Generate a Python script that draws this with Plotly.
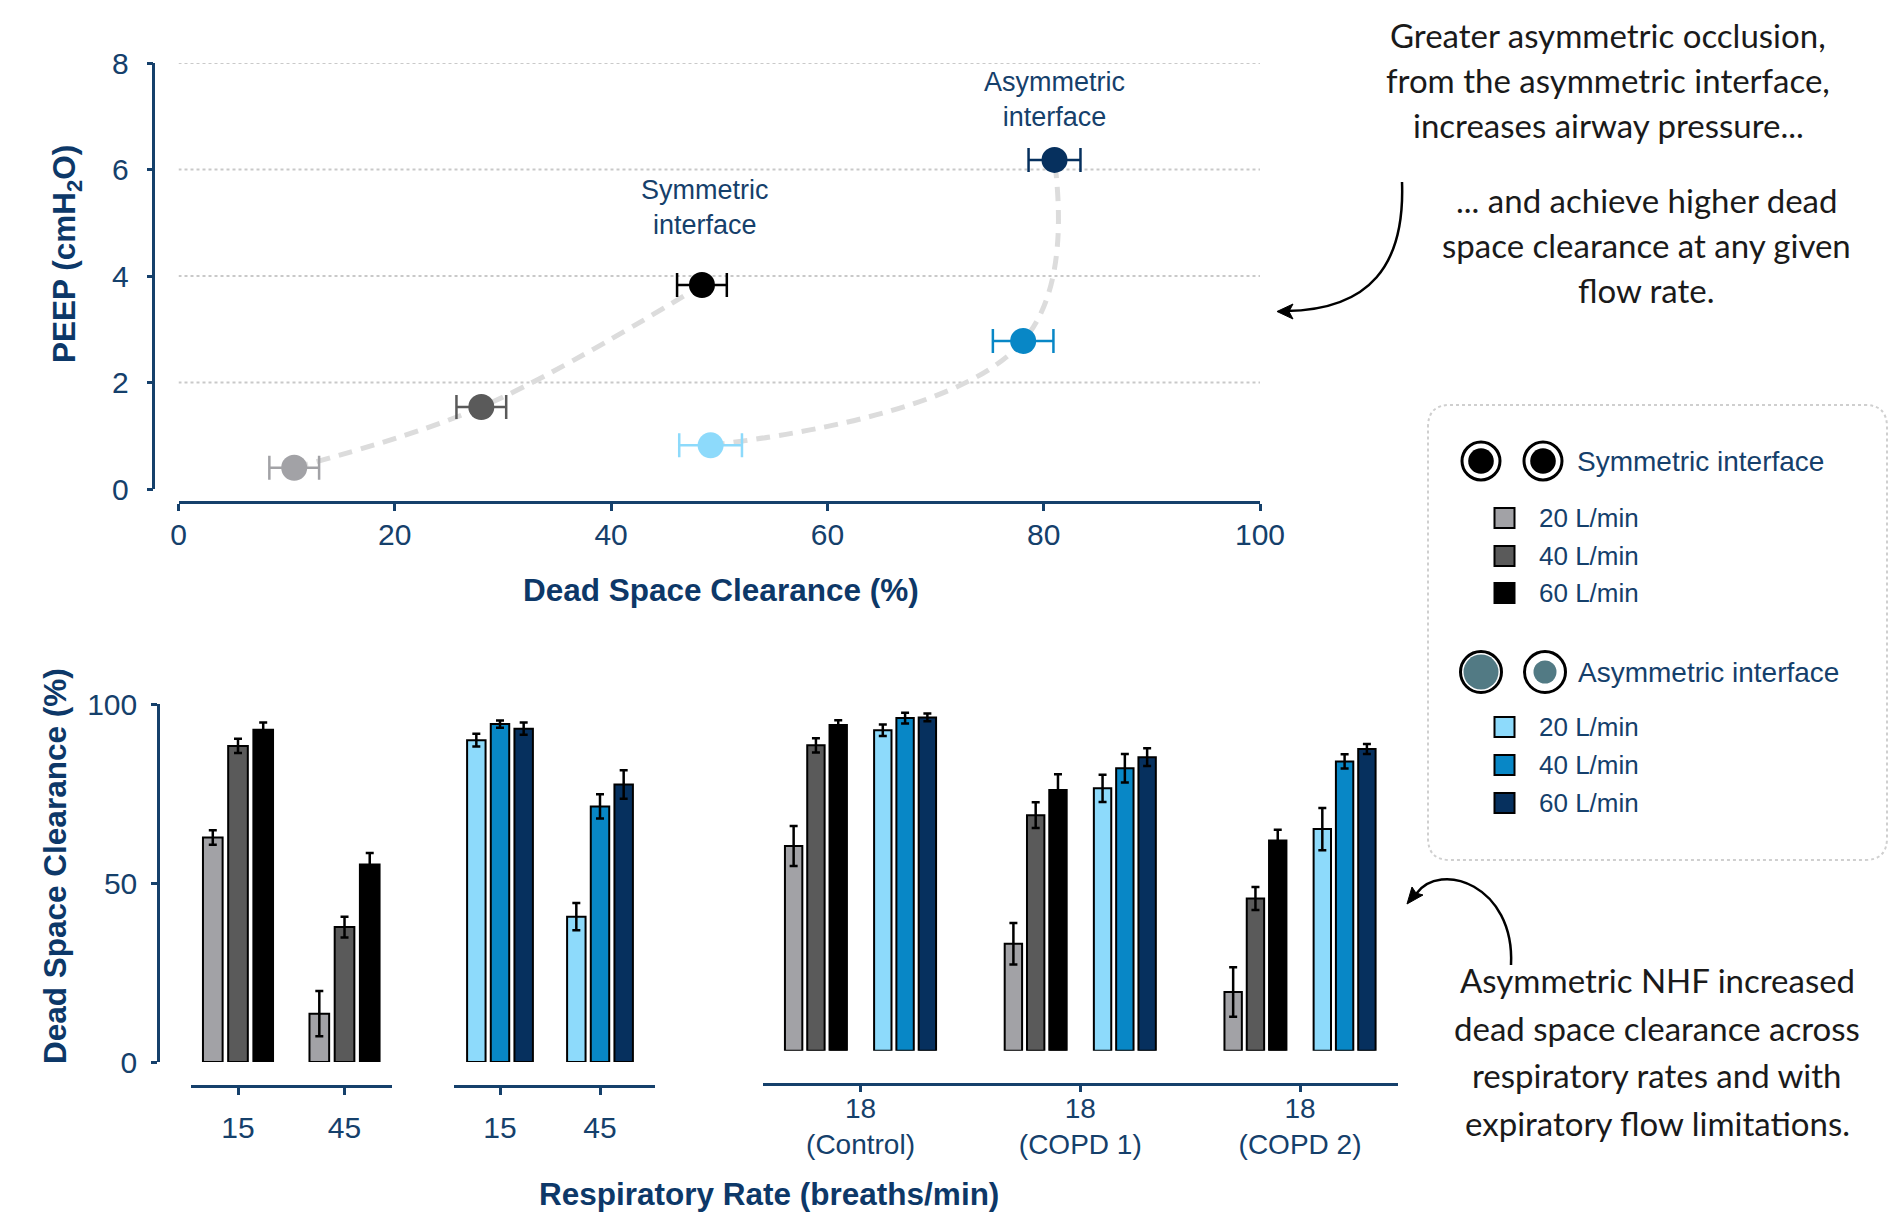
import plotly.graph_objects as go

W, H = 1891, 1213
def px(x): return x / W
def py(y): return 1 - y / H

# ---------------- data ----------------
flow_labels = ["20 L/min", "40 L/min", "60 L/min"]

# top panel: PEEP vs dead space clearance
sym_dsc = [10.7, 28.0, 48.4]
sym_dsc_err = [2.3, 2.3, 2.3]
sym_peep = [0.40, 1.54, 3.83]
asym_dsc = [49.2, 78.1, 81.0]
asym_dsc_err = [2.9, 2.8, 2.4]
asym_peep = [0.82, 2.78, 6.18]

# bottom panels: dead space clearance (%)
rr_cats = ["15", "45"]
sym_rr_20 = [62.7, 13.5]; sym_rr_20_err = [2.0, 6.3]
sym_rr_40 = [88.3, 37.7]; sym_rr_40_err = [2.0, 2.9]
sym_rr_60 = [92.8, 55.2]; sym_rr_60_err = [2.0, 3.2]
asym_rr_20 = [89.9, 40.6]; asym_rr_20_err = [1.8, 3.8]
asym_rr_40 = [94.4, 71.4]; asym_rr_40_err = [1.0, 3.4]
asym_rr_60 = [93.1, 77.5]; asym_rr_60_err = [1.7, 4.0]

copd_cats = ["18<br>(Control)", "18<br>(COPD 1)", "18<br>(COPD 2)"]
sym_copd_20 = [57.2, 29.9, 16.4]; sym_copd_20_err = [5.6, 5.8, 6.9]
sym_copd_40 = [85.3, 65.8, 42.5]; sym_copd_40_err = [2.0, 3.6, 3.2]
sym_copd_60 = [91.0, 72.8, 58.7]; sym_copd_60_err = [1.3, 4.4, 3.0]
asym_copd_20 = [89.5, 73.3, 61.9]; asym_copd_20_err = [1.6, 3.8, 5.9]
asym_copd_40 = [92.9, 78.9, 80.8]; asym_copd_40_err = [1.5, 4.0, 2.0]
asym_copd_60 = [93.1, 82.0, 84.3]; asym_copd_60_err = [1.1, 2.5, 1.4]

peep_ticks = [0, 2, 4, 6, 8]
dsc_ticks = [0, 20, 40, 60, 80, 100]
bar_ticks = [0, 50, 100]

# ---------------- styles ----------------
sym_colors = ["#a2a2a6", "#5a5a5a", "#000000"]
asym_colors = ["#8ddafb", "#0887c6", "#06305e"]
TXT = "#15406b"
TITLE = "#0d3868"
FONT = "Liberation Sans, Arial, sans-serif"
HAND = "Lato, sans-serif"
AX = dict(showline=True, linecolor=TXT, linewidth=2.5, ticks="outside",
          tickcolor=TXT, tickwidth=2.5, showgrid=False, zeroline=False, automargin=False,
          tickfont=dict(size=30, color=TXT, family=FONT), fixedrange=True)

fig = go.Figure()

# ---------- top panel ----------
fig.add_trace(go.Scatter(x=sym_dsc, y=sym_peep, mode="lines",
                         line=dict(color="#dcdcdc", width=5, shape="spline", dash="14px,9px"),
                         xaxis="x", yaxis="y", showlegend=False, hoverinfo="skip"))
fig.add_trace(go.Scatter(x=asym_dsc, y=asym_peep, mode="lines",
                         line=dict(color="#dcdcdc", width=5, shape="spline", smoothing=1.2, dash="14px,9px"),
                         xaxis="x", yaxis="y", showlegend=False, hoverinfo="skip"))
for xs, es, ys, cols in [(sym_dsc, sym_dsc_err, sym_peep, sym_colors),
                         (asym_dsc, asym_dsc_err, asym_peep, asym_colors)]:
    for i in range(3):
        fig.add_trace(go.Scatter(
            x=[xs[i]], y=[ys[i]], mode="markers",
            marker=dict(size=26, color=cols[i], line=dict(width=0)),
            error_x=dict(type="data", array=[es[i]], color=cols[i], thickness=2.5, width=12),
            xaxis="x", yaxis="y", showlegend=False, cliponaxis=False))

# ---------- bottom panels ----------
def add_bars(cats, vals, errs, color, xa, ya, name):
    fig.add_trace(go.Bar(
        x=cats, y=vals, name=name, marker=dict(color=color, line=dict(color="#000000", width=2)),
        error_y=dict(type="data", array=errs, color="#000000", thickness=2.5, width=4),
        xaxis=xa, yaxis=ya, showlegend=False))

sym_sets = [(sym_rr_20, sym_rr_20_err), (sym_rr_40, sym_rr_40_err), (sym_rr_60, sym_rr_60_err)]
asym_sets = [(asym_rr_20, asym_rr_20_err), (asym_rr_40, asym_rr_40_err), (asym_rr_60, asym_rr_60_err)]
for i, (v, e) in enumerate(sym_sets):
    add_bars(rr_cats, v, e, sym_colors[i], "x2", "y2", flow_labels[i])
for i, (v, e) in enumerate(asym_sets):
    add_bars(rr_cats, v, e, asym_colors[i], "x3", "y2", flow_labels[i])

copd_sym = [(sym_copd_20, sym_copd_20_err), (sym_copd_40, sym_copd_40_err), (sym_copd_60, sym_copd_60_err)]
copd_asym = [(asym_copd_20, asym_copd_20_err), (asym_copd_40, asym_copd_40_err), (asym_copd_60, asym_copd_60_err)]
for i, (v, e) in enumerate(copd_sym):
    add_bars(copd_cats, v, e, sym_colors[i], "x4", "y3", flow_labels[i])
# empty spacer slot between the two interfaces
fig.add_trace(go.Bar(x=copd_cats, y=[0] * len(copd_cats), marker=dict(color="rgba(0,0,0,0)", line=dict(width=0)),
                     xaxis="x4", yaxis="y3", showlegend=False, hoverinfo="skip"))
for i, (v, e) in enumerate(copd_asym):
    add_bars(copd_cats, v, e, asym_colors[i], "x4", "y3", flow_labels[i])

# ---------------- layout ----------------
shapes = []
for v in peep_ticks[1:]:
    shapes.append(dict(type="line", xref="x", yref="y", x0=dsc_ticks[0], x1=dsc_ticks[-1], y0=v, y1=v,
                       line=dict(color="#c9c9c9", width=2, dash="dot"), layer="below"))

def ppath(pts_cmd):
    out = []
    for tok in pts_cmd:
        if isinstance(tok, str):
            out.append(tok)
        else:
            out.append(f"{px(tok[0]):.5f},{py(tok[1]):.5f}")
    return " ".join(out)

# arrows (curves + filled heads)
shapes.append(dict(type="path", xref="paper", yref="paper",
                   path=ppath(["M", (1402, 182), "C", (1405, 265), (1370, 310), (1286, 311)]),
                   line=dict(color="#000000", width=2.5)))
shapes.append(dict(type="path", xref="paper", yref="paper",
                   path=ppath(["M", (1277, 311.5), "L", (1293, 304), "L", (1289, 311.5), "L", (1293, 319), "Z"]),
                   fillcolor="#000000", line=dict(color="#000000", width=1)))
shapes.append(dict(type="path", xref="paper", yref="paper",
                   path=ppath(["M", (1511, 965), "C", (1515, 885), (1440, 860), (1416, 894)]),
                   line=dict(color="#000000", width=2.5)))
shapes.append(dict(type="path", xref="paper", yref="paper",
                   path=ppath(["M", (1407, 904), "L", (1412, 887), "L", (1416, 893), "L", (1423, 895), "Z"]),
                   fillcolor="#000000", line=dict(color="#000000", width=1)))

# legend box (rounded, dotted)
x0, x1, y0, y1, r = 1428, 1887, 405, 860, 22
shapes.append(dict(type="path", xref="paper", yref="paper",
                   path=ppath(["M", (x0 + r, y0), "L", (x1 - r, y0), "Q", (x1, y0), (x1, y0 + r),
                               "L", (x1, y1 - r), "Q", (x1, y1), (x1 - r, y1),
                               "L", (x0 + r, y1), "Q", (x0, y1), (x0, y1 - r),
                               "L", (x0, y0 + r), "Q", (x0, y0), (x0 + r, y0), "Z"]),
                   line=dict(color="#cfcfcf", width=2, dash="dot")))

def circle(cx, cy, rr, fill, lc=None, lw=0):
    shapes.append(dict(type="circle", xref="paper", yref="paper",
                       x0=px(cx - rr), x1=px(cx + rr), y0=py(cy + rr), y1=py(cy - rr),
                       fillcolor=fill, line=dict(color=lc or fill, width=lw)))

TEAL = "#527a84"
for cx in (1481, 1543):
    circle(cx, 461, 19, "#ffffff", "#000000", 3)
    circle(cx, 461, 12.8, "#000000")
circle(1481, 672, 20.5, "#ffffff", "#000000", 3)
circle(1481, 672, 17.5, TEAL)
circle(1545, 672, 20.5, "#ffffff", "#000000", 3)
circle(1545, 672, 11.5, TEAL)

sq_sym_y = [518, 556, 593]
sq_asym_y = [727, 765, 803]
for ys, cols in [(sq_sym_y, sym_colors), (sq_asym_y, asym_colors)]:
    for yy, c in zip(ys, cols):
        shapes.append(dict(type="rect", xref="paper", yref="paper",
                           x0=px(1494.5), x1=px(1514.5), y0=py(yy + 10), y1=py(yy - 10),
                           fillcolor=c, line=dict(color="#000000", width=2)))

annotations = []
def ann(text, x, y, size, color=TXT, bold=False, xanchor="center", angle=0, family=FONT, xref="paper", yref="paper"):
    annotations.append(dict(text=f"<b>{text}</b>" if bold else text, x=x, y=y, xref=xref, yref=yref,
                            xanchor=xanchor, yanchor="middle", showarrow=False, textangle=angle,
                            font=dict(size=size, color=color, family=family)))

# axis titles
ann("Dead Space Clearance (%)", px(721), py(590), 31.5, TITLE, True)
ann("PEEP (cmH<sub>2</sub>O)", px(66), py(254), 31.5, TITLE, True, angle=-90)
ann("Dead Space Clearance (%)", px(55), py(866), 31.5, TITLE, True, angle=-90)
ann("Respiratory Rate (breaths/min)", px(769), py(1194), 31.5, TITLE, True)

# in-plot labels
ann("Symmetric<br>interface", 48.7, 5.29, 27, TXT, xref="x", yref="y")
ann("Asymmetric<br>interface", 81.0, 7.32, 27, TXT, xref="x", yref="y")

# legend labels
ann("Symmetric interface", px(1575), py(461), 28, TXT, xanchor="left")
ann("Asymmetric interface", px(1576), py(672), 28, TXT, xanchor="left")
for ys in (sq_sym_y, sq_asym_y):
    for yy, lab in zip(ys, flow_labels):
        ann(lab, px(1537), py(yy), 26, TXT, xanchor="left")

# handwritten notes
note1 = ["Greater asymmetric occlusion,", "from the asymmetric interface,", "increases airway pressure..."]
note1_y = [35, 80, 125]
note2 = ["... and achieve higher dead", "space clearance at any given", "flow rate."]
note2_y = [200, 245, 290]
note3 = ["Asymmetric NHF increased", "dead space clearance across", "respiratory rates and with", "expiratory flow limitations."]
note3_y = [980, 1028, 1075, 1123]
for t, yy in zip(note1, note1_y):
    ann(t, px(1608), py(yy), 33, "#1a1a1a", family=HAND)
for t, yy in zip(note2, note2_y):
    ann(t, px(1646), py(yy), 33, "#1a1a1a", family=HAND)
for t, yy in zip(note3, note3_y):
    ann(t, px(1657), py(yy), 33, "#1a1a1a", family=HAND)

fig.update_layout(
    width=W, height=H, margin=dict(l=0, r=0, t=0, b=0, autoexpand=False),
    paper_bgcolor="#ffffff", plot_bgcolor="rgba(0,0,0,0)",
    barmode="group", bargap=0.29, bargroupgap=0.22,
    showlegend=False, hovermode=False,
    font=dict(family=FONT, color=TXT),
    xaxis=dict(AX, domain=[px(178.5), px(1260)], range=[0, 100], tickvals=dsc_ticks,
               anchor="free", position=py(502), ticklen=7, ticklabelstandoff=-2),
    yaxis=dict(AX, domain=[py(489), py(63)], range=[0, 8], tickvals=peep_ticks,
               anchor="free", position=px(153.4), ticklen=6, ticklabelstandoff=12),
    xaxis2=dict(AX, type="category", domain=[px(190.6), px(391.5)], range=[-0.445, 1.441],
                anchor="free", position=py(1086), ticklen=7, ticklabelstandoff=7),
    xaxis3=dict(AX, type="category", domain=[px(454), px(655)], range=[-0.46, 1.55],
                anchor="free", position=py(1086), ticklen=7, ticklabelstandoff=7),
    xaxis4=dict(AX, type="category", domain=[px(763), px(1397.6)], range=[-0.4437, 2.444],
                anchor="free", position=py(1083.7), ticklen=7, ticklabelstandoff=-8,
                tickfont=dict(size=28, color=TXT, family=FONT)),
    yaxis2=dict(AX, domain=[py(1062), py(704)], range=[0, 100], tickvals=bar_ticks,
                anchor="free", position=px(158), ticklen=6, ticklabelstandoff=8),
    yaxis3=dict(domain=[py(1050.7), py(692.7)], range=[0, 100], visible=False, automargin=False,
                anchor="free", position=px(760), fixedrange=True),
    shapes=shapes, annotations=annotations,
)

fig.write_html("out.html", config={"displayModeBar": False},
               post_script="document.body.style.margin='0px';document.body.style.overflow='hidden';")
